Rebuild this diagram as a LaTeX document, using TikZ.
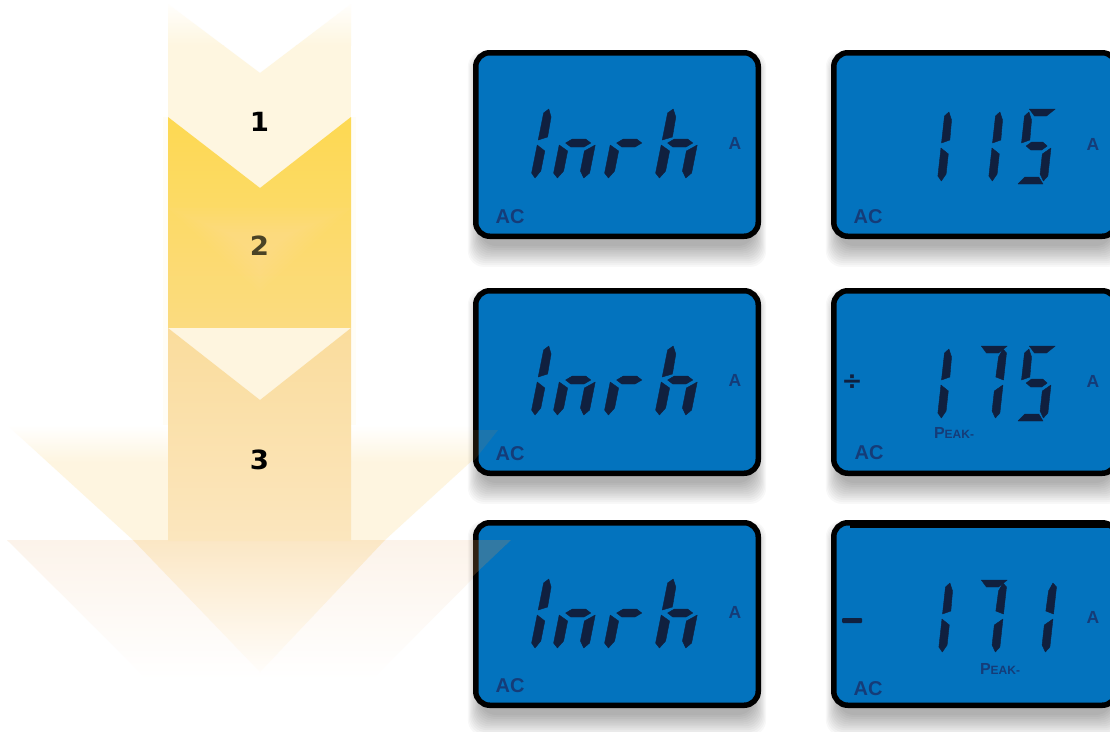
\documentclass[tikz,border=0pt]{standalone}
\usepackage{fontspec}
\setmainfont{Liberation Sans}
\newfontfamily\numfont{DejaVu Sans}
\definecolor{lcdblue}{HTML}{0373BE}
\definecolor{lcdink}{HTML}{10203F}
\definecolor{lcdtext}{HTML}{153C78}
\definecolor{paleA}{HTML}{FEF6E0}
\definecolor{halo}{HTML}{FFFDF6}
\definecolor{headlow}{HTML}{FCF3EA}
\definecolor{innertop}{HTML}{FBE7C5}
\definecolor{innerbot}{HTML}{FFFDFA}
\definecolor{upperbot}{HTML}{FEF5E0}
\definecolor{midtop}{HTML}{FDD952}
\definecolor{midbot}{HTML}{FBDB80}
\definecolor{notch}{HTML}{FEF5DF}
\definecolor{shafttop}{HTML}{FADC9C}
\definecolor{shaftbot}{HTML}{FBE6BE}
\definecolor{labeltwo}{HTML}{4A4326}
\definecolor{overA}{HTML}{B88848}
\definecolor{overB}{HTML}{C88E50}
\tikzset{
  lcdscreen/.style={draw=black,line width=5.5pt,fill=lcdblue,rounded corners=14pt,minimum width=282.5pt,inner sep=0pt,outer sep=0pt},
  seg/.style={fill=lcdink,draw=lcdink,line width=.4pt,line join=round},
  actext/.style={text=lcdtext,font=\bfseries\fontsize{20}{20}\selectfont,inner sep=0pt},
  unittext/.style={text=lcdtext,font=\bfseries\fontsize{17.5}{17.5}\selectfont,inner sep=0pt},
  peaktext/.style={text=lcdtext,inner sep=0pt,font=\bfseries},
  steplabel/.style={font=\numfont\bfseries\fontsize{24}{24}\selectfont,inner sep=0pt},
}
% seven-segment pieces, local frame: width 30, height 75, origin bottom-left
\newcommand\sA{\fill[seg] (4,-75)--(30,-75)--(22,-68)--(10,-68)--cycle;}
\newcommand\sB{\fill[seg] (30,-41)--(22,-44)--(22.5,-64)--(26,-72)--(30,-68)--cycle;}
\newcommand\sC{\fill[seg] (30,-8)--(26,-3)--(22,-10)--(22,-30)--(30,-36)--cycle;}
\newcommand\sD{\fill[seg] (1,0)--(26,0)--(21,-7)--(7,-7)--cycle;}
\newcommand\sE{\fill[seg] (0,-8)--(4,-3)--(8,-10)--(8,-30)--(0,-36)--cycle;}
\newcommand\sF{\fill[seg] (0,-41)--(8,-44)--(7.5,-64)--(4,-72)--(0,-68)--cycle;}
\newcommand\sG{\fill[seg] (5,-38)--(10,-42)--(21,-42)--(26,-38)--(21,-34)--(10,-34)--cycle;}
\newcommand\lcd[5]{\begin{scope}[shift={(#1,#2)},xslant=#3,xscale=#4]#5\end{scope}}
\newcommand\softshadow[4]{% x1 y1 x2 y2
  \foreach \k in {0,...,11}{
    \fill[black,fill opacity=.027,rounded corners=16pt]
      ({#1+7-\k*1.1},{#2+14-\k*1.2}) rectangle ({#3-7+\k*1.1},{#4+7+\k*1.9});
  }}
\begin{document}
\begin{tikzpicture}[x=1pt,y=-1pt]
\useasboundingbox (0,0) rectangle (1110,731);
\fill[white] (0,0) rectangle (1110,731);
% faint halo of the shaft
\fill[halo] (163,117) rectangle (356,425);
% large lower head
\begin{scope}
  \clip (7,540)--(511,540)--(321,731)--(199,731)--cycle;
  \shade[top color=headlow,bottom color=white] (0,540) rectangle (520,680);
\end{scope}
% pale head, lower part
\begin{scope}
  \clip (133,540)--(385,540)--(260,672)--cycle;
  \shade[top color=innertop,bottom color=innerbot] (120,540) rectangle (400,672);
\end{scope}
% pale head, upper part
\begin{scope}
  \clip (7,425)--(511,425)--(385,540)--(133,540)--cycle;
  \shade[top color=white,bottom color=upperbot] (0,425) rectangle (520,462);
  \fill[upperbot] (0,462) rectangle (520,540);
\end{scope}
% chevron 1
\begin{scope}
  \clip (168,4)--(260,73)--(351,4)--(351,117)--(260,188)--(168,117)--cycle;
  \shade[top color=white,bottom color=paleA] (168,0) rectangle (351,45);
  \fill[paleA] (168,45) rectangle (351,190);
\end{scope}
% chevron 2
\begin{scope}
  \clip (168,117)--(260,188)--(351,117)--(351,328)--(168,328)--cycle;
  \shade[top color=midtop,bottom color=midbot] (168,117) rectangle (351,328);
  \foreach \d in {0,6,...,48}{
    \fill[white,fill opacity=.02] ({168+\d*1.2},{208+\d*.5})--({351-\d*1.2},{208+\d*.5})--(260,{292-\d*.7})--cycle;
  }
\end{scope}
\fill[notch] (168,328)--(351,328)--(260,400)--cycle;
% shaft 3
\begin{scope}
  \clip (168,328)--(260,400)--(351,328)--(351,541)--(168,541)--cycle;
  \shade[top color=shafttop,bottom color=shaftbot] (168,328) rectangle (351,541);
\end{scope}
\node[steplabel,text=black] (n1) at (259.5,122) {\scalebox{1.15}[1.1]{1}};
\node[steplabel,text=labeltwo] (n2) at (259.5,245.5) {\scalebox{1.15}[1.1]{2}};
\node[steplabel,text=black] (n3) at (259.5,460) {\scalebox{1.15}[1.1]{3}};
% shadows
\softshadow{473}{50}{761}{239}
\softshadow{831}{50}{1119}{239}
\softshadow{473}{288}{761}{476}
\softshadow{831}{288}{1119}{476}
\softshadow{473}{520}{761}{708}
\softshadow{831}{520}{1119}{708}
% screens
\node[lcdscreen,minimum height=183.5pt] (s1) at (617,144.5) {};
\node[lcdscreen,minimum height=183.5pt] (s2) at (975,144.5) {};
\node[lcdscreen,minimum height=182.5pt] (s3) at (617,382) {};
\node[lcdscreen,minimum height=182.5pt] (s4) at (975,382) {};
\node[lcdscreen,minimum height=182.5pt] (s5) at (617,614) {};
\node[lcdscreen,minimum height=182.5pt] (s6) at (975,614) {};
\fill[black] (850,525) rectangle (1110,527.5);
% arrow overlapping the two left screens
\fill[overA,fill opacity=.14] (473,430)--(498,430)--(473,462)--cycle;
\fill[overB,fill opacity=.24] (473,540)--(511,540)--(473,576)--cycle;
% readouts: Inrh
\foreach \yb in {181,418,651}{
  \lcd{530}{\yb}{.2}{1.1}{\sE\sF}
  \lcd{552}{\yb}{.2}{1.2}{\sE\sG\sC}
  \lcd{603}{\yb}{.2}{1.2}{\sE\sG}
  \lcd{654}{\yb}{.2}{1.2}{\sE\sF\sG\sC}
}
% 115
\lcd{937}{184}{.11}{1}{\sE\sF}
\lcd{988}{184}{.11}{1}{\sE\sF}
\lcd{1017}{184}{.11}{1}{\sA\sF\sG\sC\sD}
% 175
\lcd{937}{421}{.11}{1}{\sE\sF}
\lcd{969}{421}{.11}{1}{\sA\sB\sC}
\lcd{1017}{421}{.11}{1}{\sA\sF\sG\sC\sD}
% 171
\lcd{938}{655}{.11}{1}{\sE\sF}
\lcd{969}{655}{.11}{1}{\sA\sB\sC}
\lcd{1019}{655}{.11}{1}{\sB\sC}
% sign marks
\node[text=lcdink,font=\numfont\bfseries\fontsize{25}{25}\selectfont,inner sep=0pt] (div) at (852,382) {÷};
\fill[lcdink,rounded corners=1pt] (842,618) rectangle (862,623);
% small labels
\node[actext] (ac1) at (510,217) {AC};
\node[actext] (ac2) at (868,217) {AC};
\node[actext] (ac3) at (510,454) {AC};
\node[actext] (ac4) at (869,453) {AC};
\node[actext] (ac5) at (510,686) {AC};
\node[actext] (ac6) at (868,689) {AC};
\node[unittext] (a1) at (735,143) {A};
\node[unittext] (a2) at (1093,144) {A};
\node[unittext] (a3) at (735,380) {A};
\node[unittext] (a4) at (1093,381) {A};
\node[unittext] (a5) at (735,612) {A};
\node[unittext] (a6) at (1093,617) {A};
\node[peaktext] (p1) at (954,433) {\fontsize{16}{16}\selectfont P\fontsize{12}{12}\selectfont EAK-};
\node[peaktext] (p2) at (1000,669) {\fontsize{16}{16}\selectfont P\fontsize{12}{12}\selectfont EAK-};
\end{tikzpicture}
\end{document}
